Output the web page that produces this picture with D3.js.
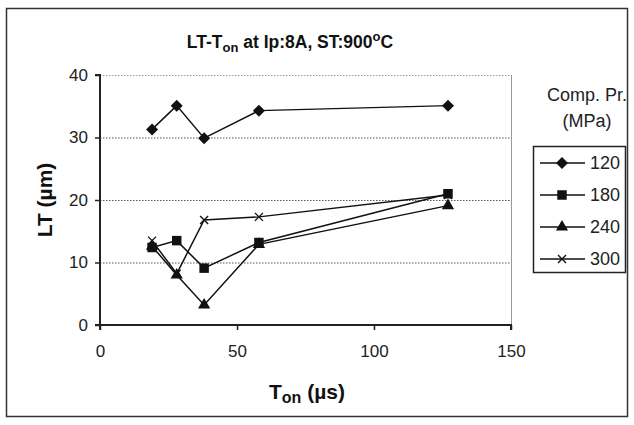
<!DOCTYPE html>
<html>
<head>
<meta charset="utf-8">
<script src="https://cdn.jsdelivr.net/npm/d3@7"></script>
<style>
  body { margin: 0; background: #fff; }
  svg { font-family: "Liberation Sans", Arial, sans-serif; }
</style>
</head>
<body>
<div id="chart"></div>
<script>
// T_on values (µs)
var tOn = [19, 28, 38, 58, 127];
var pressures = ["120", "180", "240", "300"];
var lt120 = [31.3, 35.1, 29.9, 34.3, 35.1];
var lt180 = [12.4, 13.5, 9.1, 13.2, 21.0];
var lt240 = [12.6, 8.0, 3.2, 12.9, 19.1];
var lt300 = [13.5, 8.2, 16.8, 17.3, 20.8];
var xTicks = [0, 50, 100, 150];
var yTicks = [0, 10, 20, 30, 40];

var series = [
  {name: pressures[0], vals: lt120, sym: "diamond"},
  {name: pressures[1], vals: lt180, sym: "square"},
  {name: pressures[2], vals: lt240, sym: "triangle"},
  {name: pressures[3], vals: lt300, sym: "cross"}
];

var W = 634, H = 425;
var margin = {top: 75, left: 100, right: W - 511, bottom: H - 325};
var width = W - margin.left - margin.right,
    height = H - margin.top - margin.bottom;

var svg = d3.select("#chart").append("svg")
    .attr("width", W).attr("height", H);

// outer frame
svg.append("rect")
    .attr("x", 6.5).attr("y", 8.5)
    .attr("width", 621).attr("height", 408)
    .attr("fill", "none").attr("stroke", "#333").attr("stroke-width", 1.5);

var x = d3.scaleLinear().domain([0, 150]).range([0, width]);
var y = d3.scaleLinear().domain([0, 40]).range([height, 0]);

var g = svg.append("g").attr("transform", "translate(" + margin.left + "," + margin.top + ")");

// gridlines
g.selectAll(".grid").data(yTicks.filter(function(d){ return d > 0; }))
  .enter().append("line")
    .attr("x1", 0).attr("x2", width)
    .attr("y1", function(d){ return y(d) + 0.5; })
    .attr("y2", function(d){ return y(d) + 0.5; })
    .attr("stroke", function(d){ return d === 40 ? "#999" : "#555"; })
    .attr("stroke-width", 1)
    .attr("stroke-dasharray", "1.5,1.5");

// right border of plot area
g.append("line")
    .attr("x1", width + 0.5).attr("x2", width + 0.5)
    .attr("y1", 0).attr("y2", height)
    .attr("stroke", "#999").attr("stroke-width", 1);

// axes
var xAxis = g.append("g")
    .attr("transform", "translate(0," + height + ")")
    .call(d3.axisBottom(x).tickValues(xTicks).tickSize(5).tickPadding(15));
var yAxis = g.append("g")
    .call(d3.axisLeft(y).tickValues(yTicks).tickSize(5).tickPadding(7));

[xAxis, yAxis].forEach(function(a) {
  a.select(".domain").attr("stroke", "#222").attr("stroke-width", 2);
  a.selectAll(".tick line").attr("stroke", "#222").attr("stroke-width", 1.5);
  a.selectAll("text").attr("font-size", 17).attr("fill", "#222")
      .attr("font-family", "Liberation Sans, Arial, sans-serif");
});
yAxis.select(".domain").attr("d", "M-5,0H0V" + height + "H-5");
xAxis.select(".domain").attr("d", "M0,5V0H" + width + "V5");

// lines and markers
var line = d3.line()
    .x(function(d, i){ return x(tOn[i]); })
    .y(function(d){ return y(d); });

function drawMarker(sel, s) {
  if (s.sym === "cross") {
    sel.append("path")
      .attr("d", "M-4,-4L4,4M-4,4L4,-4")
      .attr("stroke", "#111").attr("stroke-width", 1.4).attr("fill", "none");
  } else if (s.sym === "diamond") {
    sel.append("path").attr("d", "M0,-6L6,0L0,6L-6,0Z").attr("fill", "#111");
  } else if (s.sym === "square") {
    sel.append("path").attr("d", d3.symbol().type(d3.symbolSquare).size(90)()).attr("fill", "#111");
  } else {
    sel.append("path").attr("d", d3.symbol().type(d3.symbolTriangle).size(65)()).attr("fill", "#111");
  }
}

series.forEach(function(s) {
  g.append("path").datum(s.vals)
    .attr("d", line)
    .attr("fill", "none").attr("stroke", "#111").attr("stroke-width", 1.5);
});
series.slice().reverse().forEach(function(s) {
  var pts = g.selectAll(null).data(s.vals).enter().append("g")
    .attr("transform", function(d, i){ return "translate(" + x(tOn[i]) + "," + y(d) + ")"; });
  pts.each(function(){ drawMarker(d3.select(this), s); });
});

// title
var title = svg.append("text")
    .attr("x", 290).attr("y", 48)
    .attr("text-anchor", "middle")
    .attr("font-size", 17.5).attr("font-weight", "bold").attr("fill", "#111");
title.append("tspan").text("LT-T");
title.append("tspan").attr("font-size", 13).attr("dy", 4).text("on");
title.append("tspan").attr("dy", -4).text(" at Ip:8A, ST:900");
title.append("tspan").attr("font-size", 13).attr("dy", -7).text("o");
title.append("tspan").attr("dy", 7).text("C");

// axis labels
var xl = svg.append("text")
    .attr("x", 307).attr("y", 399)
    .attr("text-anchor", "middle")
    .attr("font-size", 21).attr("font-weight", "bold").attr("fill", "#111");
xl.append("tspan").text("T");
xl.append("tspan").attr("font-size", 16).attr("dy", 4).text("on");
xl.append("tspan").attr("dy", -4).text(" (µs)");

svg.append("text")
    .attr("transform", "translate(52," + (margin.top + height / 2) + ") rotate(-90)")
    .attr("text-anchor", "middle")
    .attr("font-size", 21).attr("font-weight", "bold").attr("fill", "#111")
    .text("LT (µm)");

// legend
svg.append("text").attr("x", 587).attr("y", 101).attr("text-anchor", "middle")
    .attr("font-size", 18).attr("fill", "#222").text("Comp. Pr.");
svg.append("text").attr("x", 587).attr("y", 127).attr("text-anchor", "middle")
    .attr("font-size", 18).attr("fill", "#222").text("(MPa)");

svg.append("rect")
    .attr("x", 533.5).attr("y", 146.5).attr("width", 92).attr("height", 126)
    .attr("fill", "none").attr("stroke", "#222").attr("stroke-width", 1.5);

var leg = svg.selectAll(".leg").data(series).enter().append("g")
    .attr("transform", function(d, i){ return "translate(540," + (163 + i * 32) + ")"; });
leg.append("line").attr("x1", 0).attr("x2", 45).attr("y1", 0).attr("y2", 0)
    .attr("stroke", "#111").attr("stroke-width", 1.5);
leg.append("g").attr("transform", "translate(22,0)")
    .each(function(s){ drawMarker(d3.select(this), s); });
leg.append("text").attr("x", 50).attr("y", 6)
    .attr("font-size", 18).attr("fill", "#222")
    .text(function(d){ return d.name; });
</script>
</body>
</html>
